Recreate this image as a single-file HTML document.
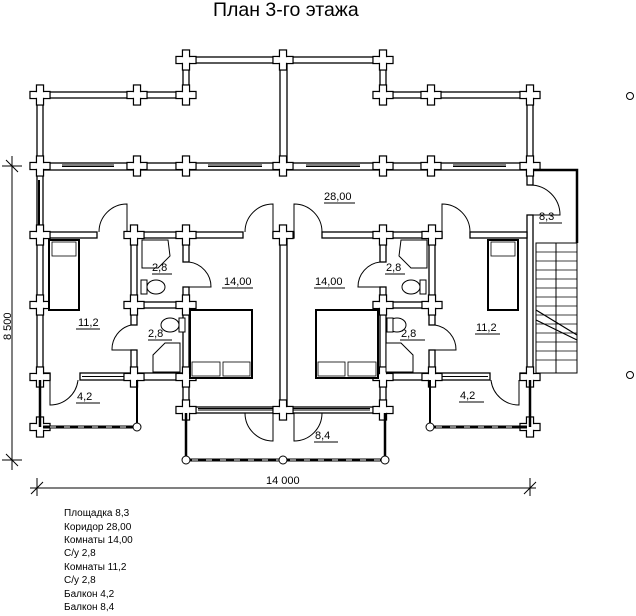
<!DOCTYPE html>
<html><head><meta charset="utf-8"><style>
html,body{margin:0;padding:0;background:#fff;width:636px;height:616px;overflow:hidden}
svg{display:block}
text{font-family:"Liberation Sans",sans-serif;fill:#000}
</style></head><body>
<svg width="636" height="616" viewBox="0 0 636 616" xmlns="http://www.w3.org/2000/svg">
<text x="213" y="16" font-size="19.5">План 3-го этажа</text>

<g fill="#fff" stroke="#000" stroke-width="1.3">
<rect x="37" y="92" width="150" height="6"/>
<rect x="183" y="57" width="203" height="6"/>
<rect x="183" y="57" width="6" height="42"/>
<rect x="380" y="57" width="6" height="42"/>
<rect x="380" y="92" width="150" height="6"/>
<rect x="280" y="57" width="7" height="110"/>
<rect x="37" y="88" width="6" height="292"/>
<rect x="527" y="88" width="6" height="97"/>
<rect x="527" y="215" width="6" height="165"/>
<rect x="37" y="163" width="496" height="7"/>
<rect x="37" y="232" width="60" height="6"/>
<rect x="127" y="232" width="116" height="6"/>
<rect x="273" y="232" width="21" height="6"/>
<rect x="322" y="232" width="120" height="6"/>
<rect x="470" y="232" width="57" height="6"/>
<rect x="131" y="232" width="6" height="93"/>
<rect x="131" y="350" width="6" height="30"/>
<rect x="183" y="232" width="6" height="30"/>
<rect x="183" y="287" width="6" height="126"/>
<rect x="280" y="232" width="7" height="181"/>
<rect x="380" y="232" width="6" height="30"/>
<rect x="380" y="287" width="6" height="126"/>
<rect x="429" y="232" width="6" height="93"/>
<rect x="429" y="350" width="6" height="30"/>
<rect x="131" y="302" width="58" height="6"/>
<rect x="380" y="302" width="55" height="6"/>
<rect x="37" y="373" width="13" height="7"/>
<rect x="80" y="373" width="109" height="7"/>
<rect x="380" y="373" width="110" height="7"/>
<rect x="520" y="373" width="13" height="7"/>
<rect x="178" y="407" width="212" height="6"/>
</g>

<g stroke="#000" stroke-width="1" fill="none">
<line x1="62" y1="166.5" x2="114" y2="166.5"/><line x1="62" y1="165" x2="114" y2="165"/>
<line x1="208" y1="166.5" x2="262" y2="166.5"/><line x1="208" y1="165" x2="262" y2="165"/>
<line x1="306" y1="166.5" x2="360" y2="166.5"/><line x1="306" y1="165" x2="360" y2="165"/>
<line x1="453" y1="166.5" x2="506" y2="166.5"/><line x1="453" y1="165" x2="506" y2="165"/>
<line x1="39" y1="180" x2="39" y2="225" stroke-width="2"/>
<line x1="82" y1="376.5" x2="125" y2="376.5"/>
<line x1="442" y1="376.5" x2="488" y2="376.5"/>
<line x1="198" y1="410" x2="278" y2="410"/><line x1="198" y1="408.5" x2="278" y2="408.5"/>
<line x1="290" y1="410" x2="370" y2="410"/><line x1="290" y1="408.5" x2="370" y2="408.5"/>
</g>

<defs>
<g id="p"><rect x="-10" y="-3.5" width="20" height="7" fill="#fff" stroke="#000" stroke-width="1.3"/><rect x="-3.5" y="-10" width="7" height="20" fill="#fff" stroke="#000" stroke-width="1.3"/><rect x="-9.3" y="-2.8" width="18.6" height="5.6" fill="#fff"/><rect x="-2.8" y="-9.3" width="5.6" height="18.6" fill="#fff"/></g>
</defs>
<g>
<use href="#p" x="40" y="95"/><use href="#p" x="137" y="95"/><use href="#p" x="186" y="95"/>
<use href="#p" x="186" y="60"/><use href="#p" x="283" y="60"/><use href="#p" x="383" y="60"/>
<use href="#p" x="383" y="95"/><use href="#p" x="431" y="95"/><use href="#p" x="530" y="95"/>
<use href="#p" x="40" y="166"/><use href="#p" x="137" y="166"/><use href="#p" x="186" y="166"/><use href="#p" x="283" y="166"/><use href="#p" x="383" y="166"/><use href="#p" x="431" y="166"/><use href="#p" x="530" y="166"/>
<use href="#p" x="40" y="235"/><use href="#p" x="134" y="235"/><use href="#p" x="186" y="235"/><use href="#p" x="283" y="235"/><use href="#p" x="383" y="235"/><use href="#p" x="432" y="235"/>
<use href="#p" x="40" y="305"/><use href="#p" x="134" y="305"/><use href="#p" x="186" y="305"/><use href="#p" x="383" y="305"/><use href="#p" x="432" y="305"/>
<use href="#p" x="40" y="377"/><use href="#p" x="134" y="377"/><use href="#p" x="186" y="377"/><use href="#p" x="383" y="377"/><use href="#p" x="432" y="377"/><use href="#p" x="530" y="377"/>
<use href="#p" x="186" y="410"/><use href="#p" x="283" y="410"/><use href="#p" x="383" y="410"/>
<use href="#p" x="40" y="427"/><use href="#p" x="530" y="427"/>
</g>

<g fill="none" stroke="#000" stroke-width="1">
<path d="M127 232 V204 A28 28 0 0 0 99 232"/>
<path d="M273 232 V204 A28 28 0 0 0 245 232"/>
<path d="M294 232 V204 A28 28 0 0 1 322 232"/>
<path d="M442 232 V204 A28 28 0 0 1 470 232"/>
<path d="M189 287 H211 A25 25 0 0 0 189 262"/>
<path d="M380 287 H358 A25 25 0 0 1 380 262"/>
<path d="M131 350 H112 A25 25 0 0 1 131 325"/>
<path d="M435 350 H456 A25 25 0 0 0 435 325"/>
<path d="M50 380 V405 A28 28 0 0 0 78 380"/>
<path d="M519 380 V405 A28 28 0 0 1 491 380"/>
<path d="M273 413 V441 A28 28 0 0 1 245 413"/>
<path d="M294 413 V441 A28 28 0 0 0 322 413"/>
<path d="M530 215 H560 A30 30 0 0 0 530 185"/>
</g>

<g fill="none" stroke="#000">
<path d="M533 170 H577 V243" stroke-width="2.5"/>
<rect x="536" y="243" width="41" height="130" stroke-width="1"/>
<line x1="556" y1="243" x2="556" y2="373" stroke-width="1"/>
<g stroke-width="0.8">
<line x1="536" y1="252" x2="577" y2="252"/><line x1="536" y1="261" x2="577" y2="261"/><line x1="536" y1="270" x2="577" y2="270"/><line x1="536" y1="279" x2="577" y2="279"/><line x1="536" y1="288" x2="577" y2="288"/><line x1="536" y1="297" x2="577" y2="297"/><line x1="536" y1="306" x2="577" y2="306"/><line x1="536" y1="315" x2="577" y2="315"/><line x1="536" y1="324" x2="577" y2="324"/><line x1="536" y1="333" x2="577" y2="333"/><line x1="536" y1="342" x2="577" y2="342"/><line x1="536" y1="351" x2="577" y2="351"/><line x1="536" y1="360" x2="577" y2="360"/>
</g>
<line x1="536" y1="310" x2="577" y2="335" stroke-width="1.2"/>
<line x1="536" y1="320" x2="577" y2="340" stroke-width="1.2"/>
</g>

<g stroke="#000" fill="none">
<line x1="186" y1="413" x2="186" y2="460" stroke-width="2.5"/>
<line x1="385" y1="413" x2="385" y2="460" stroke-width="2.5"/>
<line x1="186" y1="460" x2="385" y2="460" stroke-width="3"/>
<line x1="40" y1="380" x2="40" y2="427" stroke-width="2.5"/>
<line x1="43" y1="427" x2="137" y2="427" stroke-width="3"/>
<line x1="137" y1="380" x2="137" y2="427" stroke-width="2"/>
<line x1="430" y1="380" x2="430" y2="427" stroke-width="2"/>
<line x1="430" y1="427" x2="527" y2="427" stroke-width="3"/>
<line x1="530" y1="380" x2="530" y2="427" stroke-width="2.5"/>
</g>
<g stroke="#fff" stroke-width="1" stroke-dasharray="6 8">
<line x1="192" y1="460" x2="380" y2="460"/><line x1="50" y1="427" x2="132" y2="427"/><line x1="436" y1="427" x2="520" y2="427"/>
</g>
<g fill="#fff" stroke="#000" stroke-width="1">
<circle cx="186" cy="460" r="4"/><circle cx="283" cy="460" r="4"/><circle cx="385" cy="460" r="4"/>
<circle cx="137" cy="427" r="4"/><circle cx="430" cy="427" r="4"/>
<circle cx="630" cy="96" r="3.5"/><circle cx="630" cy="375" r="3.5"/>
</g>

<g fill="#fff" stroke="#000">
<rect x="49" y="240" width="30" height="70" stroke-width="2"/>
<rect x="52" y="242" width="24" height="14" stroke-width="0.8"/>
<rect x="488" y="240" width="30" height="70" stroke-width="2"/>
<rect x="491" y="242" width="24" height="14" stroke-width="0.8"/>
<rect x="190" y="310" width="62" height="68" stroke-width="2"/>
<rect x="192" y="362" width="28" height="14" stroke-width="0.8"/><rect x="223" y="362" width="27" height="14" stroke-width="0.8"/>
<rect x="316" y="310" width="62" height="68" stroke-width="2"/>
<rect x="318" y="362" width="27" height="14" stroke-width="0.8"/><rect x="348" y="362" width="28" height="14" stroke-width="0.8"/>
<g stroke-width="1">
<path d="M142 240 H168 L170 256 L158 268 H142 Z"/>
<path d="M427 240 H401 L399 256 L411 268 H427 Z"/>
<path d="M180 372 H153 V355 L165 343 H180 Z"/>
<path d="M386 372 H413 V355 L401 343 H386 Z"/>
<ellipse cx="156" cy="287" rx="9" ry="7"/><rect x="141" y="280" width="6" height="14"/>
<ellipse cx="411" cy="287" rx="9" ry="7"/><rect x="420" y="280" width="6" height="14"/>
<ellipse cx="170" cy="325" rx="9" ry="7"/><rect x="179" y="318" width="6" height="14"/>
<ellipse cx="397" cy="325" rx="9" ry="7"/><rect x="387" y="318" width="6" height="14"/>
</g>
</g>

<g font-size="11">
<text x="324" y="200">28,00</text><line x1="324" y1="203" x2="355" y2="203" stroke="#000"/>
<text x="539" y="220">8,3</text><line x1="539" y1="223" x2="562" y2="223" stroke="#000"/>
<text x="152" y="271">2,8</text><line x1="152" y1="274" x2="172" y2="274" stroke="#000"/>
<text x="224" y="285">14,00</text><line x1="222" y1="288" x2="253" y2="288" stroke="#000"/>
<text x="315" y="285">14,00</text><line x1="314" y1="288" x2="345" y2="288" stroke="#000"/>
<text x="386" y="271">2,8</text><line x1="385" y1="274" x2="405" y2="274" stroke="#000"/>
<text x="78" y="326">11,2</text><line x1="76" y1="329" x2="100" y2="329" stroke="#000"/>
<text x="148" y="337">2,8</text><line x1="148" y1="340" x2="172" y2="340" stroke="#000"/>
<text x="401" y="337">2,8</text><line x1="400" y1="340" x2="425" y2="340" stroke="#000"/>
<text x="476" y="331">11,2</text><line x1="475" y1="334" x2="500" y2="334" stroke="#000"/>
<text x="77" y="400">4,2</text><line x1="76" y1="403" x2="100" y2="403" stroke="#000"/>
<text x="460" y="399">4,2</text><line x1="459" y1="402" x2="484" y2="402" stroke="#000"/>
<text x="315" y="439">8,4</text><line x1="314" y1="442" x2="338" y2="442" stroke="#000"/>
</g>

<g stroke="#000" stroke-width="1">
<line x1="12" y1="156" x2="12" y2="470"/>
<line x1="2" y1="166" x2="22" y2="166"/><line x1="6" y1="160" x2="18" y2="172"/>
<line x1="2" y1="460" x2="22" y2="460"/><line x1="6" y1="454" x2="18" y2="466"/>
<line x1="30" y1="488" x2="536" y2="488"/>
<line x1="37" y1="478" x2="37" y2="496"/><line x1="31" y1="494" x2="43" y2="482"/>
<line x1="530" y1="478" x2="530" y2="496"/><line x1="524" y1="494" x2="536" y2="482"/>
</g>
<text x="11" y="340" font-size="11" transform="rotate(-90 11 340)">8 500</text>
<text x="266" y="484" font-size="11">14 000</text>

<g font-size="10">
<text x="64" y="516">Площадка 8,3</text>
<text x="64" y="530">Коридор 28,00</text>
<text x="64" y="543">Комнаты 14,00</text>
<text x="64" y="556">С/у 2,8</text>
<text x="64" y="570">Комнаты 11,2</text>
<text x="64" y="583">С/у 2,8</text>
<text x="64" y="597">Балкон 4,2</text>
<text x="64" y="610">Балкон 8,4</text>
</g>
</svg>
</body></html>
